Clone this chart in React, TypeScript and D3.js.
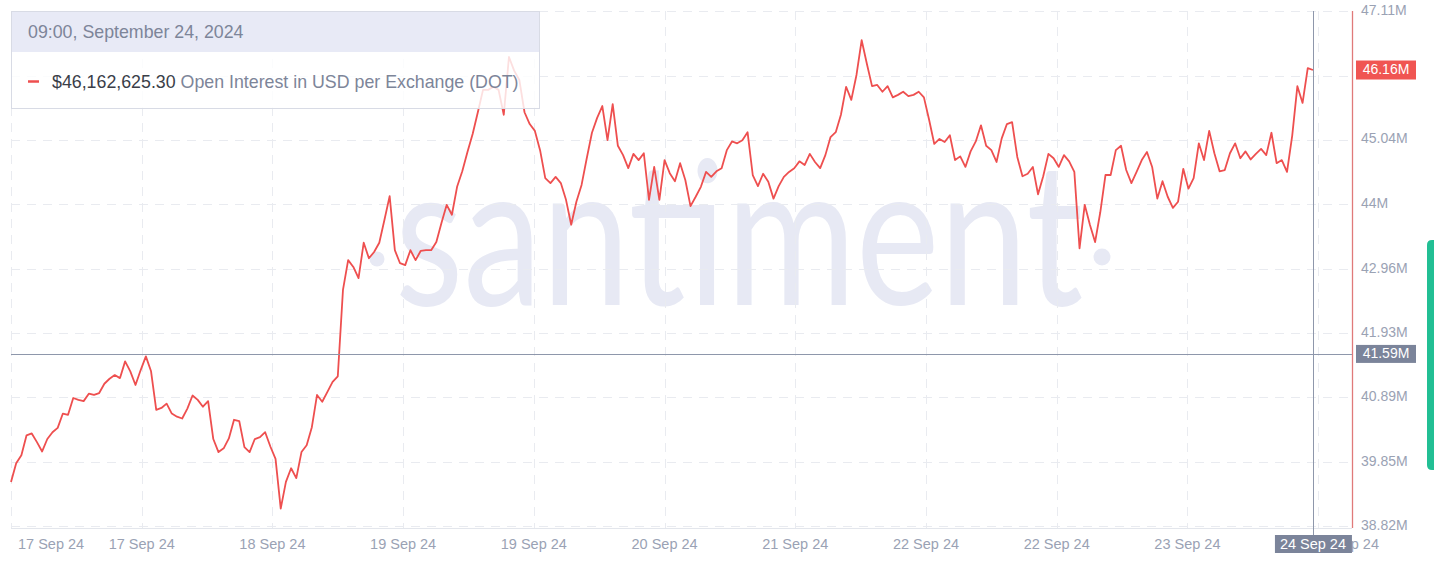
import React from 'react';
import * as d3 from 'd3';

// Open Interest in USD per Exchange (DOT), millions USD, 40-minute steps
const values: number[] = [
  39.53, 39.83, 39.96, 40.28, 40.31, 40.17, 40.02, 40.22, 40.33, 40.40,
  40.63, 40.61, 40.88, 40.85, 40.83, 40.95, 40.93, 40.96, 41.11, 41.19,
  41.25, 41.20, 41.47, 41.31, 41.09, 41.33, 41.55, 41.31, 40.69, 40.72,
  40.79, 40.63, 40.58, 40.55, 40.71, 40.92, 40.85, 40.74, 40.83, 40.22,
  40.01, 40.07, 40.23, 40.53, 40.51, 40.09, 40.01, 40.22, 40.25, 40.33,
  40.10, 39.90, 39.10, 39.53, 39.75, 39.59, 40.01, 40.12, 40.41, 40.93,
  40.82, 40.98, 41.14, 41.23, 42.62, 43.10, 42.99, 42.81, 43.38, 43.13,
  43.23, 43.38, 43.75, 44.13, 43.26, 43.05, 43.02, 43.26, 43.10, 43.25,
  43.26, 43.26, 43.39, 43.70, 43.99, 43.83, 44.28, 44.53, 44.84, 45.13,
  45.48, 45.84, 45.84, 45.89, 45.84, 45.44, 46.37, 46.15, 46.00, 45.48,
  45.29, 45.18, 44.87, 44.42, 44.34, 44.44, 44.34, 44.07, 43.67, 44.04,
  44.31, 44.74, 45.15, 45.39, 45.58, 45.03, 45.61, 44.94, 44.79, 44.58,
  44.81, 44.71, 44.82, 44.07, 44.60, 44.07, 44.71, 44.50, 44.37, 44.66,
  44.39, 43.97, 44.12, 44.28, 44.52, 44.44, 44.53, 44.58, 44.87, 45.01,
  44.98, 45.03, 45.16, 44.47, 44.29, 44.49, 44.36, 44.09, 44.29, 44.44,
  44.52, 44.58, 44.69, 44.63, 44.81, 44.68, 44.58, 44.79, 45.08, 45.16,
  45.44, 45.89, 45.68, 46.08, 46.64, 46.26, 45.90, 45.92, 45.81, 45.90,
  45.72, 45.76, 45.81, 45.74, 45.76, 45.81, 45.72, 45.36, 44.97, 45.05,
  45.00, 45.11, 44.71, 44.77, 44.60, 44.85, 45.01, 45.27, 44.94, 44.87,
  44.68, 45.06, 45.29, 45.32, 44.76, 44.45, 44.49, 44.60, 44.16, 44.45,
  44.81, 44.74, 44.60, 44.79, 44.69, 44.52, 43.29, 43.99, 43.67, 43.39,
  43.87, 44.47, 44.47, 44.87, 44.94, 44.55, 44.34, 44.52, 44.71, 44.84,
  44.60, 44.09, 44.37, 44.12, 43.94, 44.04, 44.57, 44.25, 44.42, 44.98,
  44.71, 45.18, 44.82, 44.53, 44.55, 44.82, 44.98, 44.74, 44.85, 44.72,
  44.81, 44.89, 44.79, 45.15, 44.66, 44.71, 44.52, 45.10, 45.90, 45.63,
  46.19, 46.16,
];
const startTime = new Date(2024, 8, 17, 9, 40);
const stepMinutes = 40;

const xTickLabels: string[] = [
  '17 Sep 24', '17 Sep 24', '18 Sep 24', '19 Sep 24', '19 Sep 24', '20 Sep 24',
  '21 Sep 24', '22 Sep 24', '22 Sep 24', '23 Sep 24', '24 Sep 24',
];
const xTickStepHours = 16.8;
const yDomain: [number, number] = [38.82, 47.11];
const yTickValues: number[] = [38.82, 39.85, 40.89, 41.93, 42.96, 44, 45.04, 46.07, 47.11];
const crosshairValue = 41.59;
const lastValueUsd = 46162625.3;
const tooltipTitle = '09:00, September 24, 2024';
const seriesName = 'Open Interest in USD per Exchange (DOT)';
const crosshairLabel = '24 Sep 24';

const W = 1434;
const H = 571;
const L = 11;
const R = 1352;
const T = 11;
const B = 526;
const AXIS_Y = 528;

const LINE = '#ee4f4f';
const GRID = '#e9ebf0';
const LABEL = '#9aa2b4';
const SLATE = '#7b849a';
const FONT = '"Liberation Sans", Arial, Helvetica, sans-serif';

export default function App() {
  const times = values.map((_, i) => new Date(startTime.getTime() + i * stepMinutes * 60000));
  const t0 = times[0].getTime();
  const t1 = times[times.length - 1].getTime();
  const endDomain = new Date(t1 + (t1 - t0) * 0.03);
  const x = d3.scaleTime().domain([times[0], endDomain]).range([L, R]);
  const y = d3.scaleLinear().domain(yDomain).range([B, T]);

  const line = d3
    .line<number>()
    .x((_, i) => x(times[i]))
    .y((d) => y(d))
    .curve(d3.curveLinear);
  const path = line(values) || '';

  const xTicks = xTickLabels.map((lab, k) => ({
    lab,
    t: new Date(t0 + k * xTickStepHours * 3600000),
  }));

  const lastV = values[values.length - 1];
  const lastY = y(lastV);
  const crossY = y(crosshairValue);
  const crossX = x(times[times.length - 1]);

  const fmt = (v: number) => `${+v.toFixed(2)}M`;
  const usd = '$' + d3.format(',.2f')(lastValueUsd);

  return (
    <div style={{ position: 'absolute', left: 0, top: 0 }}>
      <svg width={W} height={H} style={{ display: 'block', background: '#fff', fontFamily: FONT }}>
        {/* watermark */}
        <g fill="#e7e9f4">
          <text
            x={395}
            y={305}
            fontFamily="Lato, 'Open Sans', sans-serif"
            fontWeight={400}
            fontSize={200}
            textLength={688}
            lengthAdjust="spacingAndGlyphs"
          >
            santiment
          </text>
          <circle cx={377} cy={259} r={7.5} />
          <circle cx={1102} cy={257} r={8.5} />
        </g>

        {/* grid */}
        <g stroke={GRID} strokeWidth={1}>
          {yTickValues.map((v) => (
            <line key={'gy' + v} x1={L} x2={R} y1={Math.round(y(v)) + 0.5} y2={Math.round(y(v)) + 0.5} strokeDasharray="9 7" />
          ))}
          {xTicks.map((d, k) => (
            <line key={'gx' + k} x1={Math.round(x(d.t)) + 0.5} x2={Math.round(x(d.t)) + 0.5} y1={T} y2={AXIS_Y} strokeDasharray="9 7" />
          ))}
        </g>
        <line x1={L} x2={R} y1={AXIS_Y + 0.5} y2={AXIS_Y + 0.5} stroke="#e3e6ec" />

        {/* series */}
        <path d={path} fill="none" stroke={LINE} strokeWidth={1.8} strokeLinejoin="round" />

        {/* right axis line */}
        <line x1={R + 0.5} x2={R + 0.5} y1={T} y2={AXIS_Y} stroke="#e07a7a" strokeWidth={1.3} />

        {/* crosshair */}
        <line x1={L} x2={R} y1={Math.round(crossY) + 0.5} y2={Math.round(crossY) + 0.5} stroke="#8e97ab" strokeWidth={1} />
        <line x1={Math.round(crossX) + 0.5} x2={Math.round(crossX) + 0.5} y1={T} y2={535} stroke="#8e97ab" strokeWidth={1} />

        {/* y labels */}
        <g fontSize={14} fill={LABEL}>
          {yTickValues.map((v) => {
            const yy = y(v);
            if (Math.abs(yy - lastY) < 12 || Math.abs(yy - crossY) < 12) return null;
            return (
              <text key={'yl' + v} x={1361} y={yy} dominantBaseline="middle">
                {fmt(v)}
              </text>
            );
          })}
        </g>

        {/* x labels */}
        <g fontSize={14.5} fill={LABEL}>
          {xTicks.map((d, k) => {
            const xx = x(d.t);
            if (k === 0) return <text key={'xl' + k} x={xx + 7} y={549}>{d.lab}</text>;
            if (k === xTicks.length - 1)
              return <text key={'xl' + k} x={1379} y={549} textAnchor="end">{d.lab}</text>;
            return (
              <text key={'xl' + k} x={xx} y={549} textAnchor="middle">
                {d.lab}
              </text>
            );
          })}
        </g>

        {/* marker boxes */}
        <rect x={1356} y={lastY - 9.5} width={60} height={19} fill="#f05552" />
        <text x={1386} y={lastY + 0.5} fill="#fff" fontSize={14} textAnchor="middle" dominantBaseline="middle">
          {fmt(lastV)}
        </text>
        <rect x={1356} y={crossY - 9} width={60} height={18} fill={SLATE} />
        <text x={1386} y={crossY + 0.5} fill="#fff" fontSize={14} textAnchor="middle" dominantBaseline="middle">
          {fmt(crosshairValue)}
        </text>
        <rect x={crossX - 38} y={535} width={77} height={18} fill={SLATE} />
        <text x={crossX} y={549} fill="#fff" fontSize={14.5} textAnchor="middle">
          {crosshairLabel}
        </text>

        {/* tooltip */}
        <g>
          <rect x={11.5} y={11.5} width={528} height={97} fill="rgba(255,255,255,0.82)" stroke="#d8dbe5" />
          <rect x={12} y={12} width={527} height={40} fill="#e8eaf6" />
          <text x={28} y={38} fontSize={17.8} fill="#7d8599">
            {tooltipTitle}
          </text>
          <line x1={28} x2={39} y1={81.5} y2={81.5} stroke={LINE} strokeWidth={2.5} />
          <text x={52} y={87.5} fontSize={17.8}>
            <tspan fill="#3a3e48">{usd}</tspan>
            <tspan fill="#7d8599">{' ' + seriesName}</tspan>
          </text>
        </g>

        {/* green side tab */}
        <path d="M1434,240 L1432,240 Q1427,240 1427,245 L1427,465 Q1427,470 1432,470 L1434,470 Z" fill="#22bf94" />
      </svg>
    </div>
  );
}
